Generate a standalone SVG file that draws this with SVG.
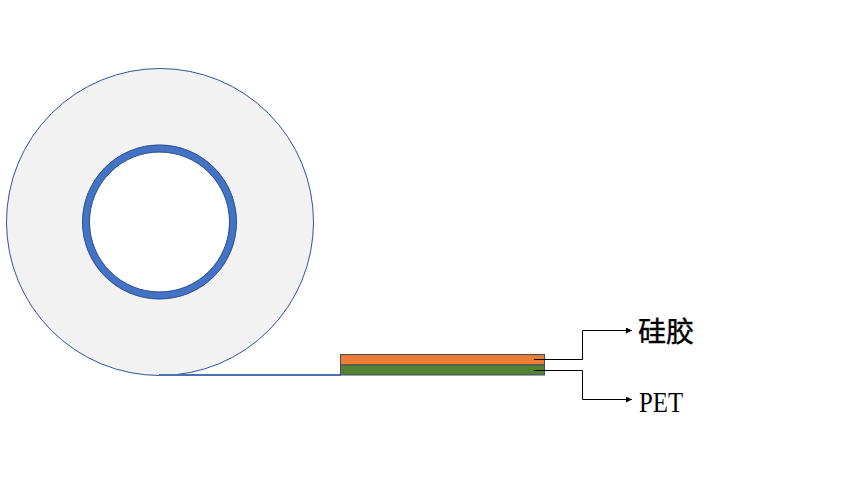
<svg xmlns="http://www.w3.org/2000/svg" width="861" height="483" viewBox="0 0 861 483">
<style>
.ln{fill:none;stroke:#000;stroke-width:1}
.lb{fill:#000;font-family:"Liberation Serif","Noto Sans CJK SC",serif}
.bar{stroke:#3f4d5f;stroke-width:1}
</style>
<defs><marker id="a" markerUnits="userSpaceOnUse" markerWidth="7" markerHeight="6" refX="6" refY="3" orient="auto"><path d="M0 0L6 3L0 6Z" fill="#000"/></marker></defs>
<rect width="861" height="483" fill="#fff"/>
<g id="roll">
<circle cx="160" cy="222" r="153.500" fill="#f2f2f2" stroke="#2f5597" stroke-width="1"/>
<circle cx="159.500" cy="222" r="73.500" fill="#fff" stroke="#4472c4" stroke-width="7.500"/>
<circle cx="159.500" cy="222" r="77" fill="none" stroke="#2f528f" stroke-width="1"/>
<circle cx="159.500" cy="222" r="70" fill="none" stroke="#2f528f" stroke-width="1"/>
</g>
<g id="tape"><path d="M159 375H341" fill="none" stroke="#4a72b0" stroke-width="2"/></g>
<g id="silicone"><rect class="bar" x="340.500" y="354.500" width="204" height="10.500" fill="#ed7d31"/></g>
<g id="pet"><rect class="bar" x="340.500" y="365" width="204" height="10" fill="#548235"/></g>
<g id="connectors">
<path class="ln" d="M534 359.500H582.500V330.500H632" marker-end="url(#a)"/>
<path class="ln" d="M534 370.500H582.500V399.500H632" marker-end="url(#a)"/>
</g>
<g id="label-silicone"><text class="lb" x="638" y="342" font-size="28" stroke="#000" stroke-width="0.400">硅胶</text></g>
<g id="label-pet"><text class="lb" x="639" y="412" font-size="30" textLength="44" lengthAdjust="spacingAndGlyphs">PET</text></g>
</svg>
